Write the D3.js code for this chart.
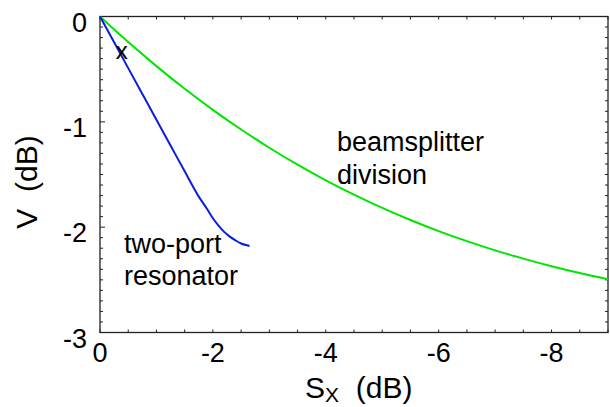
<!DOCTYPE html>
<html><head><meta charset="utf-8">
<script src="https://cdn.jsdelivr.net/npm/d3@7"></script>
<style>body{margin:0;background:#fff}svg{display:block}text{font-family:"Liberation Sans",Arial,Helvetica,sans-serif;fill:#000}</style>
</head><body><div id="chart"></div>
<script>
// Beamsplitter division curve (S_X dB, V dB)
const bsSx = [0,-0.5,-1,-1.5,-2,-2.5,-3,-3.5,-4,-4.5,-5,-5.5,-6,-6.5,-7,-7.5,-8,-8.5,-9];
const bsV  = [0,-0.243,-0.471,-0.686,-0.886,-1.073,-1.246,-1.407,-1.555,-1.691,-1.817,-1.932,-2.037,-2.133,-2.220,-2.299,-2.371,-2.436,-2.495];
// Two-port resonator curve
const rsSx = [0,-0.25,-0.5,-0.75,-1.0,-1.25,-1.5,-1.75,-1.9,-2.0,-2.1,-2.2,-2.3,-2.4,-2.5,-2.6,-2.65];
const rsV  = [0,-0.245,-0.49,-0.735,-0.98,-1.225,-1.47,-1.71,-1.83,-1.915,-1.985,-2.045,-2.09,-2.125,-2.155,-2.172,-2.178];
const xTickLabels = [0,-2,-4,-6,-8];
const yTickLabels = [0,-1,-2,-3];
const marker = {sx:-0.385, v:-0.334, label:"x"};

const W=610,H=407;
const m={left:100,right:2,top:16.5,bottom:74.5};
const svg=d3.select("#chart").append("svg").attr("width",W).attr("height",H);
const x=d3.scaleLinear().domain([0,-9]).range([m.left,W-m.right]);
const y=d3.scaleLinear().domain([0,-3]).range([m.top,H-m.bottom]);
const FS=27, TS=30;

const g=svg.append("g");
// frame
g.append("rect").attr("x",x(0)).attr("y",y(0)).attr("width",x(-9)-x(0)).attr("height",y(-3)-y(0))
 .attr("fill","none").attr("stroke","#222").attr("stroke-width",1.3);

// ticks
const xt=d3.range(0,19).map(i=>-i*0.5);
const yt=d3.range(0,31).map(i=>-i*0.1);
xt.forEach(v=>{
  g.append("line").attr("x1",x(v)).attr("x2",x(v)).attr("y1",y(-3)).attr("y2",y(-3)-3).attr("stroke","#222");
  g.append("line").attr("x1",x(v)).attr("x2",x(v)).attr("y1",y(0)).attr("y2",y(0)+3).attr("stroke","#222");
});
yt.forEach((v,i)=>{
  const major=(i%10===0);
  g.append("line").attr("x1",x(0)).attr("x2",x(0)+(major?5:3)).attr("y1",y(v)).attr("y2",y(v)).attr("stroke","#222");
  g.append("line").attr("x1",x(-9)).attr("x2",x(-9)-3).attr("y1",y(v)).attr("y2",y(v)).attr("stroke","#222");
});

// tick labels
g.selectAll(".xl").data(xTickLabels).enter().append("text")
 .attr("x",d=>x(d)).attr("y",y(-3)+29).attr("text-anchor","middle").attr("font-size",FS).text(d=>d===0?"0":"-"+Math.abs(d));
g.selectAll(".yl").data(yTickLabels).enter().append("text")
 .attr("x",x(0)-13).attr("y",d=>y(d)+15).attr("text-anchor","end").attr("font-size",FS).text(d=>d===0?"0":"-"+Math.abs(d));

// axis titles
const xl=g.append("text").attr("x",305).attr("y",398).attr("font-size",TS).attr("xml:space","preserve");
xl.append("tspan").text("S");
xl.append("tspan").attr("font-size",21).attr("dy",4).text("X");
xl.append("tspan").attr("dy",-4).text("  (dB)");
g.append("text").attr("transform","translate(37,182) rotate(-90)").attr("text-anchor","middle")
 .attr("font-size",TS).attr("xml:space","preserve").text("V  (dB)");

// curves
const line=d3.line().x(d=>x(d[0])).y(d=>y(d[1])).curve(d3.curveMonotoneX);
g.append("path").datum(bsSx.map((s,i)=>[s,bsV[i]])).attr("d",line)
 .attr("fill","none").attr("stroke","#00e600").attr("stroke-width",2);
g.append("path").datum(rsSx.map((s,i)=>[s,rsV[i]])).attr("d",line)
 .attr("fill","none").attr("stroke","#0a1ee0").attr("stroke-width",2);

// annotations
g.append("text").attr("x",x(marker.sx)).attr("y",y(marker.v)+7).attr("text-anchor","middle").attr("font-size",24).text(marker.label);
g.append("text").attr("x",337).attr("y",151).attr("font-size",FS).text("beamsplitter");
g.append("text").attr("x",337).attr("y",184).attr("font-size",FS).text("division");
g.append("text").attr("x",124).attr("y",253).attr("font-size",FS).text("two-port");
g.append("text").attr("x",124).attr("y",285).attr("font-size",FS).text("resonator");
</script></body></html>
